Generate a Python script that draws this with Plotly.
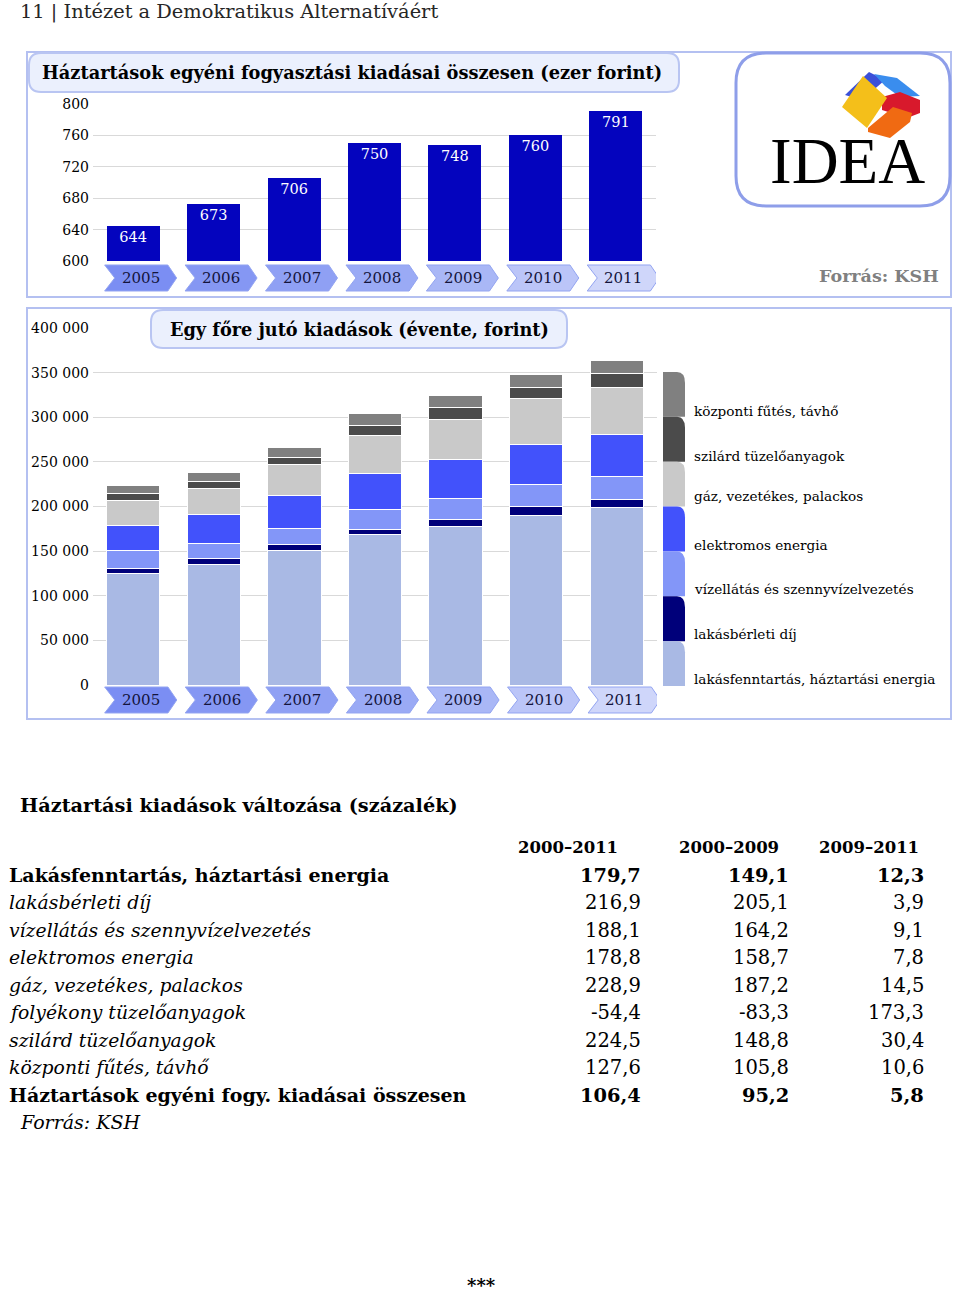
import plotly.graph_objects as go

W, H = 960, 1299
SERIF = "DejaVu Serif"

# ---------------- data ----------------
years = ["2005", "2006", "2007", "2008", "2009", "2010", "2011"]
total_spend = [644, 673, 706, 750, 748, 760, 791]  # ezer forint

series_names = [
    "lakásfenntartás, háztartási energia",
    "lakásbérleti díj",
    "vízellátás és szennyvízelvezetés",
    "elektromos energia",
    "gáz, vezetékes, palackos",
    "szilárd tüzelőanyagok",
    "központi fűtés, távhő",
]
lakasfenntartas = [125200, 134600, 150300, 168200, 177600, 189900, 199200]
lakasberleti = [5600, 7100, 6700, 5600, 7400, 10100, 8300]
vizellatas = [19800, 17200, 18700, 22400, 23600, 24300, 25700]
elektromos = [27700, 32100, 36600, 41200, 43700, 45600, 47200]
gaz = [28800, 29500, 34800, 42200, 45600, 51200, 53000]
szilard = [7100, 7500, 7500, 11200, 13500, 12700, 16100]
kozponti = [9000, 10500, 11900, 13800, 13400, 14200, 13800]
series_values = [lakasfenntartas, lakasberleti, vizellatas, elektromos, gaz, szilard, kozponti]
series_colors = ["#A9B9E4", "#00007A", "#8396F8", "#4252FB", "#C9C9C9", "#4B4B4B", "#808080"]

top_ticks = [600, 640, 680, 720, 760, 800]
bottom_ticks = [0, 50000, 100000, 150000, 200000, 250000, 300000, 350000, 400000]

table_title = "Háztartási kiadások változása (százalék)"
periods = ["2000–2011", "2000–2009", "2009–2011"]
row_labels = [
    "Lakásfenntartás, háztartási energia",
    "lakásbérleti díj",
    "vízellátás és szennyvízelvezetés",
    "elektromos energia",
    "gáz, vezetékes, palackos",
    "folyékony tüzelőanyagok",
    "szilárd tüzelőanyagok",
    "központi fűtés, távhő",
    "Háztartások egyéni fogy. kiadásai összesen",
]
row_bold = [True, False, False, False, False, False, False, False, True]
chg_2000_2011 = ["179,7", "216,9", "188,1", "178,8", "228,9", "-54,4", "224,5", "127,6", "106,4"]
chg_2000_2009 = ["149,1", "205,1", "164,2", "158,7", "187,2", "-83,3", "148,8", "105,8", "95,2"]
chg_2009_2011 = ["12,3", "3,9", "9,1", "7,8", "14,5", "173,3", "30,4", "10,6", "5,8"]
chevron_colors = ["#7B8EF3", "#8597F3", "#8FA0F4", "#9AAAF5", "#A9B7F6", "#BBC5F8", "#CFD6FA"]


# ---------------- helpers (page pixel -> paper) ----------------
def X(px):
    return px / W


def Y(py):
    return 1 - py / H


def path_px(points, close=True):
    s = "M " + " L ".join(f"{X(a):.5f},{Y(b):.5f}" for a, b in points)
    return s + (" Z" if close else "")


def rounded_rect(x0, y0, x1, y1, r):
    p = lambda a, b: f"{X(a):.5f},{Y(b):.5f}"
    return (f"M {p(x0 + r, y0)} L {p(x1 - r, y0)} Q {p(x1, y0)} {p(x1, y0 + r)} "
            f"L {p(x1, y1 - r)} Q {p(x1, y1)} {p(x1 - r, y1)} L {p(x0 + r, y1)} "
            f"Q {p(x0, y1)} {p(x0, y1 - r)} L {p(x0, y0 + r)} Q {p(x0, y0)} {p(x0 + r, y0)} Z")


shapes = []
annotations = []


def ann(text, x, y, size, color="#000000", bold=False, italic=False, xanchor="left",
        family=SERIF, yanchor="middle"):
    t = text
    if bold:
        t = f"<b>{t}</b>"
    if italic:
        t = f"<i>{t}</i>"
    annotations.append(dict(text=t, x=X(x), y=Y(y), xref="paper", yref="paper", showarrow=False,
                            xanchor=xanchor, yanchor=yanchor,
                            font=dict(family=family, size=size, color=color)))


fig = go.Figure()

# ---------------- top chart ----------------
cats = list(range(len(years)))
fig.add_trace(go.Bar(x=cats, y=total_spend, xaxis="x", yaxis="y", width=0.66,
                     marker=dict(color="#0404BE", line=dict(width=0)),
                     text=[str(v) for v in total_spend], textposition="inside",
                     insidetextanchor="end", textangle=0,
                     textfont=dict(family=SERIF, size=14.5, color="#FFFFFF"),
                     hoverinfo="skip", showlegend=False, cliponaxis=False))

# ---------------- bottom chart ----------------
for name, vals, col in zip(series_names, series_values, series_colors):
    fig.add_trace(go.Bar(x=cats, y=vals, name=name, xaxis="x2", yaxis="y2", width=0.66,
                         marker=dict(color=col, line=dict(color="#FFFFFF", width=1)),
                         hoverinfo="skip", showlegend=False))

# frames
shapes.append(dict(type="rect", xref="paper", yref="paper", x0=X(27), y0=Y(52), x1=X(951), y1=Y(297),
                   line=dict(color="#B4C0F1", width=2), fillcolor="rgba(0,0,0,0)", layer="below"))
shapes.append(dict(type="rect", xref="paper", yref="paper", x0=X(27), y0=Y(308), x1=X(951), y1=Y(719),
                   line=dict(color="#B4C0F1", width=2), fillcolor="rgba(0,0,0,0)", layer="below"))

# title boxes
shapes.append(dict(type="path", xref="paper", yref="paper", path=rounded_rect(29, 53, 679, 92, 12),
                   line=dict(color="#B9C5F2", width=2), fillcolor="#EBF0FD", layer="above"))
shapes.append(dict(type="path", xref="paper", yref="paper", path=rounded_rect(151, 310, 567, 348, 12),
                   line=dict(color="#B9C5F2", width=2), fillcolor="#EBF0FD", layer="above"))

# logo box
shapes.append(dict(type="path", xref="paper", yref="paper", path=rounded_rect(736, 53, 950, 206, 30),
                   line=dict(color="#8E9EE9", width=3), fillcolor="#FFFFFF", layer="above"))
logo_polys = [
    ([(845, 95), (869, 72), (885, 80), (862, 100)], "#3B50D8"),
    ([(874, 74), (897, 78), (920, 96), (900, 97), (885, 86)], "#3A8DEE"),
    ([(882, 97), (900, 92), (920, 100), (920, 113), (907, 118), (882, 110)], "#D8192C"),
    ([(868, 128), (893, 107), (912, 113), (910, 122), (890, 138), (868, 132)], "#F06A12"),
    ([(842, 107), (863, 76), (887, 98), (867, 128)], "#F4BF1A"),
]
for pts, col in logo_polys:
    shapes.append(dict(type="path", xref="paper", yref="paper", path=path_px(pts),
                       line=dict(width=0), fillcolor=col, layer="above"))


# chevrons (year labels) for both charts
def chevrons(xref, ytop, ybot):
    ymid = (ytop + ybot) / 2
    for i, (yr, col) in enumerate(zip(years, chevron_colors)):
        l, n, r, t = i - 0.355, i - 0.23, i + 0.43, i + 0.54
        p = lambda a, b: f"{a:.4f},{Y(b):.5f}"
        path = f"M {p(l, ytop)} L {p(r, ytop)} L {p(t, ymid)} L {p(r, ybot)} L {p(l, ybot)} L {p(n, ymid)} Z"
        shapes.append(dict(type="path", xref=xref, yref="paper", path=path,
                           line=dict(color="#93A4F1", width=1), fillcolor=col, layer="above"))
        annotations.append(dict(text=yr, x=i + 0.095, y=Y(ymid), xref=xref, yref="paper",
                                showarrow=False, xanchor="center", yanchor="middle",
                                font=dict(family=SERIF, size=15, color="#14143C")))


chevrons("x", 265, 291)
chevrons("x2", 687, 713)

# legend blocks
lg_top, lg_bot = 372, 686
step = (lg_bot - lg_top) / len(series_names)
legend_label_y = [411, 456, 496, 545, 589, 634, 679]
for k, (name, col) in enumerate(zip(reversed(series_names), reversed(series_colors))):
    y0 = lg_top + k * step
    y1 = y0 + step
    x0, x1 = 663, 685
    p = lambda a, b: f"{X(a):.5f},{Y(b):.5f}"
    path = (f"M {p(x0, y1)} L {p(x0, y0)} L {p(x1 - 8, y0)} Q {p(x1, y0)} {p(x1, y0 + 11)} "
            f"L {p(x1, y1)} Z")
    shapes.append(dict(type="path", xref="paper", yref="paper", path=path,
                       line=dict(width=0), fillcolor=col, layer="above"))
    ann(name, 692, legend_label_y[k], 13.6)

# texts
ann("11 | Intézet a Demokratikus Alternatíváért", 18, 11, 19.4, color="#262626")
ann("Háztartások egyéni fogyasztási kiadásai összesen (ezer forint)", 352, 72, 17.8, bold=True, xanchor="center")
ann("Egy főre jutó kiadások (évente, forint)", 359, 330, 17.7, bold=True, xanchor="center")
ann("IDEA", 847, 161, 65, xanchor="center", family="Liberation Serif")
ann("Forrás: KSH", 941, 276, 17.5, color="#808080", bold=True, xanchor="right")

ann(table_title, 18, 806, 19.3, bold=True)
header_x = [568, 729, 869]
for hx, per in zip(header_x, periods):
    ann(per, hx, 847, 16.5, bold=True, xanchor="center")
row_y0, row_dy = 875, 27.5
col_right = [643, 791, 926]
for r, (lab, b) in enumerate(zip(row_labels, row_bold)):
    yy = row_y0 + r * row_dy
    ann(lab, 7, yy, 19.0 if b else 18.8, bold=b, italic=not b)
    for cx, col in zip(col_right, [chg_2000_2011, chg_2000_2009, chg_2009_2011]):
        ann(col[r], cx, yy, 19.4 if b else 19.5, bold=b, xanchor="right")
ann("Forrás: KSH", 18, 1122, 19.0, italic=True)
ann("***", 481, 1285, 18, bold=True, xanchor="center")

fig.update_layout(
    width=W, height=H,
    margin=dict(l=0, r=0, t=0, b=0, autoexpand=False),
    paper_bgcolor="#FFFFFF", plot_bgcolor="rgba(0,0,0,0)",
    barmode="stack", separators=", ",
    font=dict(family=SERIF, size=14, color="#000000"),
    xaxis=dict(domain=[X(93), X(656)], range=[-0.5, 6.5], visible=False, anchor="y"),
    yaxis=dict(domain=[Y(261), Y(104)], range=[600, 800], tickvals=top_ticks,
               gridcolor="#D9D9D9", gridwidth=1, zeroline=False, showline=False, ticks="",
               ticklabelstandoff=3,
               tickfont=dict(family=SERIF, size=14, color="#000000"), anchor="x", automargin=False),
    xaxis2=dict(domain=[X(93), X(657)], range=[-0.5, 6.5], visible=False, anchor="y2"),
    yaxis2=dict(domain=[Y(685), Y(328)], range=[0, 400000], tickvals=bottom_ticks, tickformat=",d",
                gridcolor="#D9D9D9", gridwidth=1, zeroline=False, showline=False, ticks="",
                ticklabelstandoff=3,
                tickfont=dict(family=SERIF, size=14, color="#000000"), anchor="x2", automargin=False),
    shapes=shapes, annotations=annotations,
)

fig.write_html("out.html", config={"displayModeBar": False},
               post_script="document.body.style.margin='0px';document.body.style.padding='0px';"
                           "document.documentElement.style.margin='0px';")
